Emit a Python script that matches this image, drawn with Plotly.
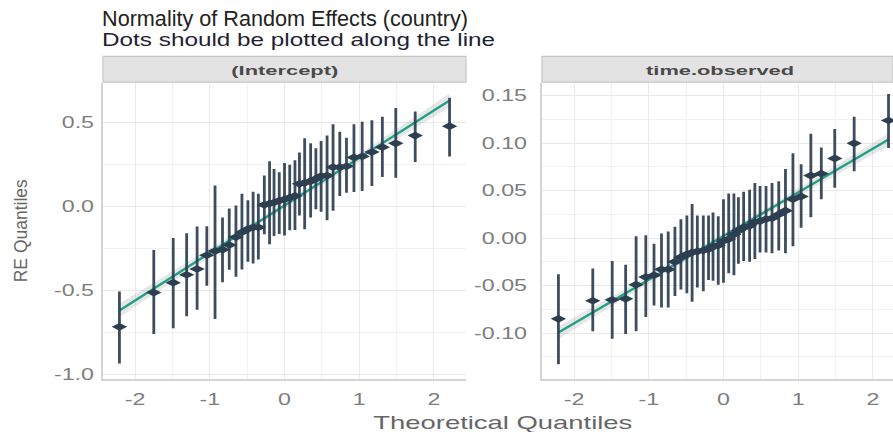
import json
import numpy as np
import plotly.graph_objects as go

# Theoretical normal quantiles (same grouping levels in both panels)
theoretical_q = [-2.21, -1.75, -1.49, -1.31, -1.17, -1.04, -0.93, -0.83, -0.74, -0.65,
                 -0.57, -0.49, -0.42, -0.35, -0.27, -0.20, -0.14, -0.07, 0.00, 0.07,
                 0.14, 0.20, 0.27, 0.35, 0.42, 0.49, 0.57, 0.65, 0.74, 0.83,
                 0.93, 1.04, 1.17, 1.31, 1.49, 1.75, 2.21]

# (Intercept) random effects: estimate, lower, upper
intercept_re = [-0.716, -0.512, -0.453, -0.406, -0.372, -0.290, -0.265, -0.257, -0.229, -0.182,
                -0.153, -0.134, -0.124, -0.124, 0.010, 0.018, 0.024, 0.035, 0.043, 0.053,
                0.063, 0.135, 0.141, 0.151, 0.165, 0.181, 0.184, 0.234, 0.234, 0.239,
                0.292, 0.298, 0.324, 0.353, 0.376, 0.422, 0.478]
intercept_lo = [-0.935, -0.759, -0.724, -0.653, -0.614, -0.471, -0.669, -0.451, -0.376, -0.418,
                -0.375, -0.329, -0.339, -0.316, -0.165, -0.225, -0.176, -0.163, -0.172, -0.141,
                -0.139, -0.053, -0.135, -0.065, -0.016, -0.031, -0.081, -0.025, 0.063, 0.082,
                0.086, 0.092, 0.122, 0.175, 0.171, 0.265, 0.298]
intercept_hi = [-0.506, -0.259, -0.188, -0.159, -0.119, -0.118, 0.125, -0.065, -0.012, 0.006,
                0.076, 0.037, 0.088, 0.076, 0.184, 0.269, 0.224, 0.204, 0.259, 0.249,
                0.276, 0.322, 0.406, 0.376, 0.347, 0.390, 0.422, 0.490, 0.445, 0.410,
                0.490, 0.504, 0.514, 0.534, 0.586, 0.566, 0.647]

# time.observed random slopes: estimate, lower, upper
slope_re = [-0.085, -0.066, -0.065, -0.064, -0.049, -0.041, -0.039, -0.033, -0.033, -0.025,
            -0.020, -0.017, -0.015, -0.014, -0.013, -0.0115, -0.009, -0.0076, -0.003, -0.001,
            0.004, 0.008, 0.011, 0.013, 0.017, 0.018, 0.020, 0.021, 0.025, 0.029,
            0.041, 0.044, 0.066, 0.068, 0.084, 0.100, 0.124]
slope_lo = [-0.133, -0.098, -0.106, -0.101, -0.098, -0.083, -0.071, -0.073, -0.073, -0.061,
            -0.054, -0.058, -0.067, -0.052, -0.056, -0.044, -0.045, -0.049, -0.047, -0.037,
            -0.039, -0.027, -0.024, -0.025, -0.022, -0.015, -0.015, -0.016, -0.013, -0.016,
            -0.0086, 0.011, 0.022, 0.041, 0.053, 0.0705, 0.095]
slope_hi = [-0.038, -0.032, -0.024, -0.028, 0.002, 0.003, -0.006, 0.005, 0.007, 0.012,
            0.020, 0.024, 0.036, 0.024, 0.024, 0.024, 0.027, 0.023, 0.041, 0.047,
            0.047, 0.043, 0.049, 0.051, 0.058, 0.055, 0.055, 0.058, 0.060, 0.073,
            0.0896, 0.078, 0.110, 0.0955, 0.115, 0.128, 0.152]

panel_titles = ["(Intercept)", "time.observed"]
title_text = "Normality of Random Effects (country)"
subtitle_text = "Dots should be plotted along the line"
x_title = "Theoretical Quantiles"
y_title = "RE Quantiles"
x_ticks = [-2, -1, 0, 1, 2]
x_ticktext = ["-2", "-1", "0", "1", "2"]
x_minor = [-1.5, -0.5, 0.5, 1.5]
y_ticks_left = [-1.0, -0.5, 0.0, 0.5]
y_ticktext_left = ["-1.0", "-0.5", "0.0", "0.5"]
y_minor_left = [-0.75, -0.25, 0.25]
y_ticks_right = [-0.10, -0.05, 0.00, 0.05, 0.10, 0.15]
y_ticktext_right = ["-0.10", "-0.05", "0.00", "0.05", "0.10", "0.15"]
y_minor_right = [-0.125, -0.075, -0.025, 0.025, 0.075, 0.125]

W, H = 893, 432
FONT = "Liberation Sans"
DOT = "#2c3e50"
BAR = "rgba(44,62,80,0.92)"
LINE = "#1fa187"
GRID = "#e9e9e9"
MINOR = "#f1f1f1"
TICK = "#7d7d7d"

# horizontally widened text: rendered width in px per label, and tick widening factor
TEXT_WIDTHS = {
    title_text: 366,
    subtitle_text: 393,
    x_title: 259,
    panel_titles[0]: 107,
    panel_titles[1]: 148,
}
TICK_STRETCH = 1.45


def px_x(p):
    return p / W


def px_y(p):
    return 1 - p / H


def lm_band(x, y):
    x = np.asarray(x, float)
    y = np.asarray(y, float)
    n = len(x)
    b, a = np.polyfit(x, y, 1)
    fit = a + b * x
    resid = y - fit
    sigma = np.sqrt(np.sum(resid ** 2) / (n - 2))
    sxx = np.sum((x - x.mean()) ** 2)
    se = sigma * np.sqrt(1 / n + (x - x.mean()) ** 2 / sxx)
    t = 2.03
    return fit, fit - t * se, fit + t * se


fig = go.Figure()

panels = [
    (intercept_re, intercept_lo, intercept_hi, "x", "y"),
    (slope_re, slope_lo, slope_hi, "x2", "y2"),
]
for est, lo, hi, xa, ya in panels:
    fit, band_lo, band_hi = lm_band(theoretical_q, est)
    fig.add_trace(go.Scatter(
        x=theoretical_q + theoretical_q[::-1],
        y=list(band_hi) + list(band_lo[::-1]),
        fill="toself", fillcolor="rgba(120,120,120,0.18)",
        line=dict(width=0), hoverinfo="skip", showlegend=False,
        xaxis=xa, yaxis=ya))
    fig.add_trace(go.Scatter(
        x=theoretical_q, y=list(fit), mode="lines",
        line=dict(color=LINE, width=2.4), showlegend=False,
        xaxis=xa, yaxis=ya))
    fig.add_trace(go.Scatter(
        x=theoretical_q, y=est, mode="markers",
        marker=dict(symbol="diamond-wide", size=11, color=DOT),
        error_y=dict(type="data", symmetric=False,
                     array=[h - e for h, e in zip(hi, est)],
                     arrayminus=[e - l for e, l in zip(est, lo)],
                     color=BAR, thickness=2.8, width=0),
        showlegend=False, xaxis=xa, yaxis=ya))

left_dom = [px_x(103), px_x(466)]
right_dom = [px_x(542), 1.0]
y_dom = [px_y(383), px_y(84)]

axis_common = dict(
    showgrid=True, gridcolor=GRID, gridwidth=1.3, zeroline=False,
    showline=True, linecolor="#d4d4d4", linewidth=1.6,
    ticks="", tickfont=dict(family=FONT, size=16, color=TICK),
    tickmode="array",
)
minor_common = dict(showgrid=True, gridcolor=MINOR, gridwidth=0.8)

fig.update_layout(
    width=W, height=H,
    margin=dict(l=0, r=0, t=0, b=0),
    paper_bgcolor="white", plot_bgcolor="white",
    xaxis=dict(domain=left_dom, range=[-2.43, 2.43], anchor="y",
               tickvals=x_ticks, ticktext=x_ticktext, ticklabelstandoff=5,
               minor=dict(tickvals=x_minor, **minor_common), **axis_common),
    yaxis=dict(domain=y_dom, range=[-1.024, 0.735], anchor="x",
               tickvals=y_ticks_left, ticktext=y_ticktext_left, ticklabelstandoff=4,
               minor=dict(tickvals=y_minor_left, **minor_common), **axis_common),
    xaxis2=dict(domain=right_dom, range=[-2.43, 2.27], anchor="y2",
                tickvals=x_ticks, ticktext=x_ticktext, ticklabelstandoff=5,
                minor=dict(tickvals=x_minor, **minor_common), **axis_common),
    yaxis2=dict(domain=y_dom, range=[-0.148, 0.1635], anchor="x2",
                tickvals=y_ticks_right, ticktext=y_ticktext_right, ticklabelstandoff=10,
                minor=dict(tickvals=y_minor_right, **minor_common), **axis_common),
)

# facet strips
strip_bounds = [(103, 466, 284.5), (542, 900, 720)]
for (x0, x1, xc), label in zip(strip_bounds, panel_titles):
    fig.add_shape(type="rect", xref="paper", yref="paper",
                  x0=px_x(x0), x1=min(px_x(x1), 1.0), y0=px_y(83), y1=px_y(57),
                  fillcolor="#e3e3e3", line=dict(color="#c6c6c6", width=1.2), layer="below")
    fig.add_annotation(text=label, xref="paper", yref="paper",
                       x=px_x(xc), y=px_y(71), xanchor="center", yanchor="middle",
                       showarrow=False,
                       font=dict(family=FONT, size=13, color="#4a4a4a", weight="bold"))

fig.add_annotation(text=title_text, xref="paper", yref="paper",
                   x=px_x(102 + 366 / 2), y=px_y(19), xanchor="center", yanchor="middle",
                   showarrow=False, font=dict(family=FONT, size=21.5, color="#222222"))
fig.add_annotation(text=subtitle_text, xref="paper", yref="paper",
                   x=px_x(102 + 393 / 2), y=px_y(40), xanchor="center", yanchor="middle",
                   showarrow=False, font=dict(family=FONT, size=17.5, color="#1f1f33"))
fig.add_annotation(text=x_title, xref="paper", yref="paper",
                   x=px_x(503), y=px_y(427), xanchor="center", yanchor="middle",
                   showarrow=False, font=dict(family=FONT, size=19, color="#666666"))
fig.add_annotation(text=y_title, xref="paper", yref="paper",
                   x=px_x(21), y=px_y(234), xanchor="center", yanchor="middle",
                   textangle=-90, showarrow=False,
                   font=dict(family=FONT, size=17.5, color="#666666"))

# widen labels horizontally once the plot has been drawn
stretch_js = """
var gd = document.getElementById('{plot_id}');
var widths = %s;
var factor = %s;
function widen() {
  gd.querySelectorAll('text.annotation-text').forEach(function (t) {
    var w = widths[t.textContent];
    if (w) {
      t.setAttribute('textLength', w);
      t.setAttribute('lengthAdjust', 'spacingAndGlyphs');
    }
  });
  gd.querySelectorAll('g.xtick text, g.x2tick text, g.ytick text, g.y2tick text').forEach(function (t) {
    if (!t.getAttribute('data-w')) {
      t.setAttribute('data-w', t.getComputedTextLength());
    }
    t.setAttribute('textLength', parseFloat(t.getAttribute('data-w')) * factor);
    t.setAttribute('lengthAdjust', 'spacingAndGlyphs');
  });
}
widen();
gd.on('plotly_afterplot', widen);
""" % (json.dumps(TEXT_WIDTHS), TICK_STRETCH)

fig.write_html("out.html", post_script=stretch_js)
